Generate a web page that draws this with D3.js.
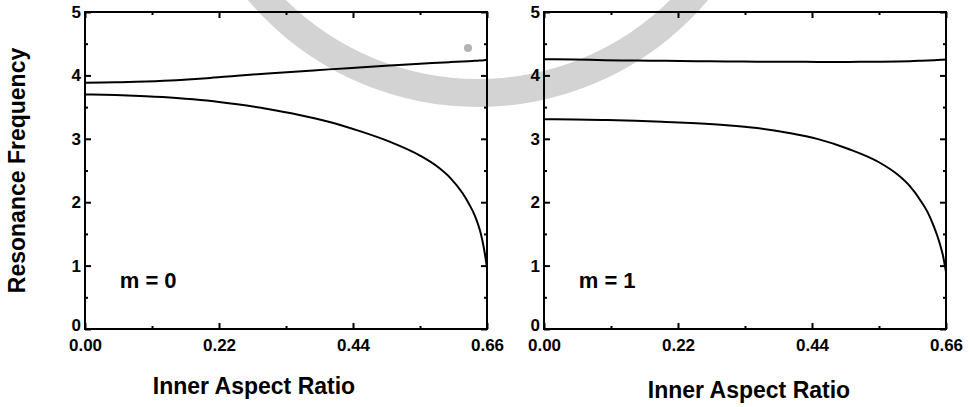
<!DOCTYPE html>
<html>
<head>
<meta charset="utf-8">
<script src="https://cdn.jsdelivr.net/npm/d3@7"></script>
<style>
  html, body { margin: 0; padding: 0; background: #fff; }
  svg { display: block; }
  text { font-family: "Liberation Sans", Arial, sans-serif; font-weight: bold; fill: #000; }
</style>
</head>
<body>
<svg id="chart" width="970" height="407"></svg>
<script>
// Inner aspect ratio samples shared by every curve
const ratio = [0, 0.05, 0.10, 0.15, 0.20, 0.25, 0.30, 0.35, 0.40, 0.45, 0.50, 0.55, 0.58,
               0.60, 0.62, 0.63, 0.64, 0.645, 0.65, 0.655, 0.66];

// m = 0 resonance branches
const m0Upper = [3.885, 3.89, 3.905, 3.925, 3.955, 3.995, 4.03, 4.06, 4.095, 4.125, 4.155, 4.185, 4.20,
                 4.21, 4.22, 4.225, 4.23, 4.233, 4.236, 4.24, 4.245];
const m0Lower = [3.700, 3.690, 3.672, 3.645, 3.605, 3.545, 3.470, 3.380, 3.270, 3.125, 2.955, 2.735, 2.550,
                 2.380, 2.140, 1.980, 1.790, 1.660, 1.500, 1.270, 0.970];

// m = 1 resonance branches
const m1Upper = [4.255, 4.25, 4.24, 4.235, 4.23, 4.225, 4.22, 4.217, 4.215, 4.213, 4.213, 4.216, 4.22,
                 4.225, 4.232, 4.236, 4.24, 4.242, 4.245, 4.248, 4.25];
const m1Lower = [3.310, 3.306, 3.297, 3.284, 3.266, 3.245, 3.215, 3.170, 3.095, 2.995, 2.840, 2.630, 2.440,
                 2.260, 2.000, 1.840, 1.620, 1.490, 1.340, 1.160, 0.900];

// Axis ticks
const xMajor = [0, 0.22, 0.44, 0.66];
const xMajorLabels = ["0.00", "0.22", "0.44", "0.66"];
const xMinor = [0.11, 0.33, 0.55];
const yMajor = [0, 1, 2, 3, 4, 5];
const yMinor = [0.5, 1.5, 2.5, 3.5, 4.5];

const panelLabels = ["m = 0", "m = 1"];
const xTitle = "Inner Aspect Ratio";
const yTitle = "Resonance Frequency";

const svg = d3.select("#chart");

// faint seal ring in the background
const seal = svg.append("g").attr("transform", "translate(478,-194)");
seal.append("path")
  .attr("d", d3.arc()({ innerRadius: 273, outerRadius: 301, startAngle: 0, endAngle: 2 * Math.PI }))
  .attr("fill", "#d3d3d3");
seal.append("circle").attr("cx", -10).attr("cy", 242).attr("r", 4).attr("fill", "#b4b4b4");

const plotTop = 12, plotBottom = 329;
const panels = [
  { left: 85, right: 487, upper: m0Upper, lower: m0Lower, label: panelLabels[0], titleX: 254, titleY: 394 },
  { left: 544, right: 946, upper: m1Upper, lower: m1Lower, label: panelLabels[1], titleX: 749, titleY: 398 }
];

const y = d3.scaleLinear().domain([0, 5]).range([plotBottom, plotTop]);

const styleAxis = sel => {
  sel.selectAll("path.domain").remove();
  sel.selectAll("line").attr("stroke", "#000").attr("stroke-width", 2);
  sel.selectAll("text").attr("font-size", 17).attr("font-family", "Liberation Sans, Arial, sans-serif")
    .attr("font-weight", "bold").attr("fill", "#000");
};

panels.forEach(p => {
  const x = d3.scaleLinear().domain([0, 0.66]).range([p.left, p.right]);
  const g = svg.append("g");

  // bottom axis: labels + inward ticks
  g.append("g").attr("transform", `translate(0,${plotBottom})`)
    .call(d3.axisBottom(x).tickValues(xMajor).tickFormat((d, k) => xMajorLabels[k])
      .tickSize(-6).tickPadding(10).tickSizeOuter(0))
    .call(styleAxis);
  g.append("g").attr("transform", `translate(0,${plotBottom})`)
    .call(d3.axisBottom(x).tickValues(xMinor).tickFormat("").tickSize(-3).tickSizeOuter(0))
    .call(styleAxis);
  // top mirror ticks
  g.append("g").attr("transform", `translate(0,${plotTop})`)
    .call(d3.axisTop(x).tickValues(xMajor).tickFormat("").tickSize(-6).tickSizeOuter(0))
    .call(styleAxis);
  g.append("g").attr("transform", `translate(0,${plotTop})`)
    .call(d3.axisTop(x).tickValues(xMinor).tickFormat("").tickSize(-3).tickSizeOuter(0))
    .call(styleAxis);

  // left axis: labels + inward ticks; the zero label sits a little higher
  g.append("g").attr("transform", `translate(${p.left},0)`)
    .call(d3.axisLeft(y).tickValues(yMajor).tickFormat(d3.format("d"))
      .tickSize(-6).tickPadding(4).tickSizeOuter(0))
    .call(styleAxis)
    .call(a => a.selectAll(".tick text").filter(d => d === 0).attr("dy", "0.08em"));
  g.append("g").attr("transform", `translate(${p.left},0)`)
    .call(d3.axisLeft(y).tickValues(yMinor).tickFormat("").tickSize(-3).tickSizeOuter(0))
    .call(styleAxis);
  // right mirror ticks
  g.append("g").attr("transform", `translate(${p.right},0)`)
    .call(d3.axisRight(y).tickValues(yMajor).tickFormat("").tickSize(-6).tickSizeOuter(0))
    .call(styleAxis);
  g.append("g").attr("transform", `translate(${p.right},0)`)
    .call(d3.axisRight(y).tickValues(yMinor).tickFormat("").tickSize(-3).tickSizeOuter(0))
    .call(styleAxis);

  // frame
  g.append("rect")
    .attr("x", p.left).attr("y", plotTop)
    .attr("width", p.right - p.left).attr("height", plotBottom - plotTop)
    .attr("fill", "none").attr("stroke", "#000").attr("stroke-width", 2);

  // curves
  const line = d3.line()
    .x((d, k) => x(ratio[k]))
    .y(d => y(d))
    .curve(d3.curveMonotoneX);
  [p.upper, p.lower].forEach(series => {
    g.append("path")
      .attr("d", line(series))
      .attr("fill", "none")
      .attr("stroke", "#000")
      .attr("stroke-width", 2)
      .attr("stroke-linejoin", "round");
  });

  // mode label
  g.append("text")
    .attr("x", x(0.057)).attr("y", y(0.65))
    .attr("font-size", 22)
    .text(p.label);

  // x axis title
  g.append("text")
    .attr("x", p.titleX).attr("y", p.titleY)
    .attr("text-anchor", "middle")
    .attr("font-size", 23)
    .text(xTitle);
});

// y axis title
svg.append("text")
  .attr("transform", `translate(25,${(plotTop + plotBottom) / 2}) rotate(-90)`)
  .attr("text-anchor", "middle")
  .attr("font-size", 23)
  .text(yTitle);
</script>
</body>
</html>
